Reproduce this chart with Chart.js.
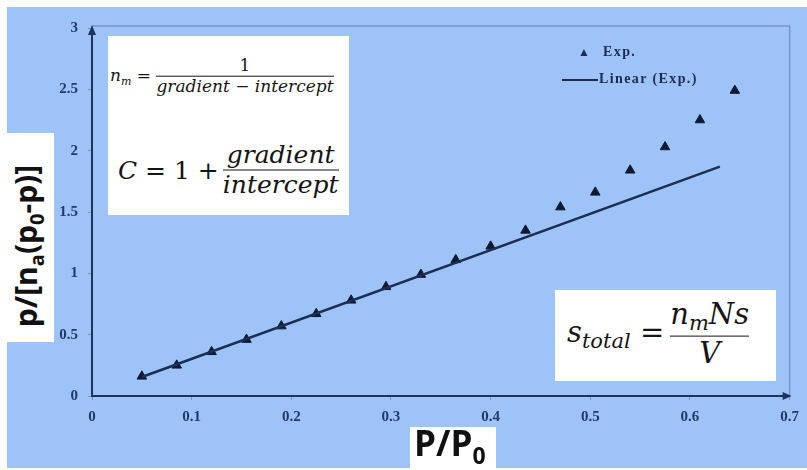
<!DOCTYPE html>
<html>
<head>
<meta charset="utf-8">
<script src="https://cdn.jsdelivr.net/npm/chart.js@4.4.0/dist/chart.umd.min.js"></script>
<style>
  html, body { margin: 0; padding: 0; background: #fff; }
  #wrap { position: relative; width: 807px; height: 470px; overflow: hidden; }
  #bg { position: absolute; left: 7px; top: 7px; width: 800px; height: 461px; background: #9ec3f6; }
  canvas { position: absolute; left: 0; top: 0; }
  .box { position: absolute; background: #fff; }
  .math { font-family: "DejaVu Serif", serif; font-style: italic; color: #151515; }
  .row { position: absolute; display: flex; align-items: center; white-space: nowrap; transform: translateY(-50%); }
  .frac { display: inline-flex; flex-direction: column; align-items: center; }
  .frac span { line-height: 1.15; }
  .bar { align-self: stretch; height: 1.5px; background: #151515; }
  .up { font-style: normal; }
  .lab { font-family: "Open Sans", sans-serif; font-weight: 700; color: #111; white-space: nowrap; }
  #legend { position: absolute; left: 560px; top: 43px; font-family: "Liberation Serif", serif; font-weight: 700; font-size: 14px; letter-spacing: 1.4px; color: #1b2b52; }
  #legend div { position: absolute; white-space: nowrap; }
</style>
</head>
<body>
<div id="wrap">
  <div id="bg"></div>
  <canvas id="bet" width="807" height="470"></canvas>

  <!-- formula box, top left -->
  <div class="box math" style="left:108px; top:36px; width:241px; height:179px;">
    <div class="row" style="left:2px; top:40px; font-size:17px;">
      <span>n<sub style="font-size:11px">m</sub>&nbsp;<span class="up">=</span>&nbsp;</span>
      <span class="frac"><span class="up">1</span><span class="bar"></span><span>gradient <span class="up">−</span> intercept</span></span>
    </div>
    <div class="row" style="left:10px; top:134px; font-size:25px;">
      <span style="margin-right:4px">C <span class="up">= 1 +</span></span>
      <span class="frac"><span>gradient</span><span class="bar"></span><span>intercept</span></span>
    </div>
  </div>

  <!-- formula box, bottom right -->
  <div class="box math" style="left:555px; top:290px; width:221px; height:91px;">
    <div class="row" style="left:12px; top:44px; font-size:29px;">
      <span style="margin-right:6px">s<sub style="font-size:21px">total</sub>&nbsp;<span class="up">=</span></span>
      <span class="frac"><span>n<sub style="font-size:21px">m</sub>Ns</span><span class="bar"></span><span>V</span></span>
    </div>
  </div>

  <!-- axis titles -->
  <div class="box" style="left:0px; top:133px; width:54px; height:209px;">
    <div class="lab" style="position:absolute; left:27px; top:113px; font-size:30px; transform:translate(-50%,-50%) rotate(-90deg);">p/[n<sub style="font-size:20px">a</sub>(p<sub style="font-size:20px">0</sub>-p)]</div>
  </div>
  <div class="box" style="left:410px; top:427px; width:86px; height:43px;">
    <div class="lab" style="position:absolute; left:4px; top:-8px; font-size:35px;">P/P<sub style="font-size:23px">0</sub></div>
  </div>

  <div id="legend">
    <div style="left:18px; top:2px; font-size:12px;">▲</div>
    <div style="left:43px; top:1px;">Exp.</div>
    <div style="left:2px; top:36px; width:36px; height:2px; background:#1b2b52;"></div>
    <div style="left:39px; top:28px;">Linear (Exp.)</div>
  </div>
</div>

<script>
// P/P0 values and measured BET term
const relPressure = [0.05, 0.085, 0.12, 0.155, 0.19, 0.225, 0.26, 0.295, 0.33, 0.365, 0.40, 0.435, 0.47, 0.505, 0.54, 0.575, 0.61, 0.645];
const betTerm = [0.16, 0.25, 0.36, 0.46, 0.57, 0.67, 0.78, 0.89, 0.99, 1.11, 1.22, 1.35, 1.54, 1.66, 1.84, 2.03, 2.25, 2.49];

// Linear (Exp.) trend line end points
const fitX = [0.05, 0.63];
const fitY = [0.155, 1.87];

const xTickLabels = ["0", "0.1", "0.2", "0.3", "0.4", "0.5", "0.6", "0.7"];
const yTickLabels = ["0", "0.5", "1", "1.5", "2", "2.5", "3"];

const NAVY = "#1d3461";
const tickFont = { family: "'Liberation Serif', serif", weight: "bold", size: 15 };

// frame at top/right + arrow heads on the axes
const frame = {
  id: "frame",
  afterDraw(chart) {
    const { ctx, chartArea: a } = chart;
    ctx.save();
    ctx.strokeStyle = "#7a96c8";
    ctx.lineWidth = 1.5;
    ctx.beginPath();
    ctx.moveTo(a.left, a.top - 2);
    ctx.lineTo(a.right, a.top - 2);
    ctx.lineTo(a.right, a.bottom);
    ctx.stroke();

    ctx.fillStyle = NAVY;
    ctx.beginPath();
    ctx.moveTo(a.left, a.top - 3);
    ctx.lineTo(a.left - 4, a.top + 7);
    ctx.lineTo(a.left + 4, a.top + 7);
    ctx.fill();
    ctx.beginPath();
    ctx.moveTo(a.right + 2, a.bottom);
    ctx.lineTo(a.right - 7, a.bottom - 4);
    ctx.lineTo(a.right - 7, a.bottom + 4);
    ctx.fill();
    ctx.restore();
  }
};

new Chart(document.getElementById("bet"), {
  type: "scatter",
  data: {
    datasets: [
      {
        label: "Linear (Exp.)",
        data: fitX.map((x, i) => ({ x, y: fitY[i] })),
        showLine: true,
        borderColor: "#1b2f55",
        borderWidth: 2.5,
        pointRadius: 0
      },
      {
        label: "Exp.",
        data: relPressure.map((x, i) => ({ x, y: betTerm[i] })),
        pointStyle: "triangle",
        pointRadius: 5.5,
        backgroundColor: "#0e1a33",
        borderColor: "#0e1a33",
        borderWidth: 1
      }
    ]
  },
  options: {
    responsive: false,
    animation: false,
    layout: { padding: { top: 28, right: 10, bottom: 0, left: 0 } },
    plugins: { legend: { display: false }, tooltip: { enabled: false } },
    scales: {
      x: {
        type: "linear",
        min: 0,
        max: 0.7,
        afterFit: s => { s.height = 74; },
        afterBuildTicks: s => { s.ticks = xTickLabels.map(t => ({ value: +t })); },
        ticks: { callback: (v, i) => xTickLabels[i], font: tickFont, color: "#233a6c", padding: 8 },
        grid: { drawOnChartArea: false, tickLength: 4, color: "#7b93bd" },
        border: { color: NAVY, width: 2 }
      },
      y: {
        min: 0,
        max: 3,
        afterFit: s => { s.width = 92; },
        afterBuildTicks: s => { s.ticks = yTickLabels.map(t => ({ value: +t })); },
        ticks: { callback: (v, i) => yTickLabels[i], font: tickFont, color: "#233a6c", padding: 10 },
        grid: { drawOnChartArea: false, tickLength: 4, color: "#7b93bd" },
        border: { color: NAVY, width: 2 }
      }
    }
  },
  plugins: [frame]
});
</script>
</body>
</html>
